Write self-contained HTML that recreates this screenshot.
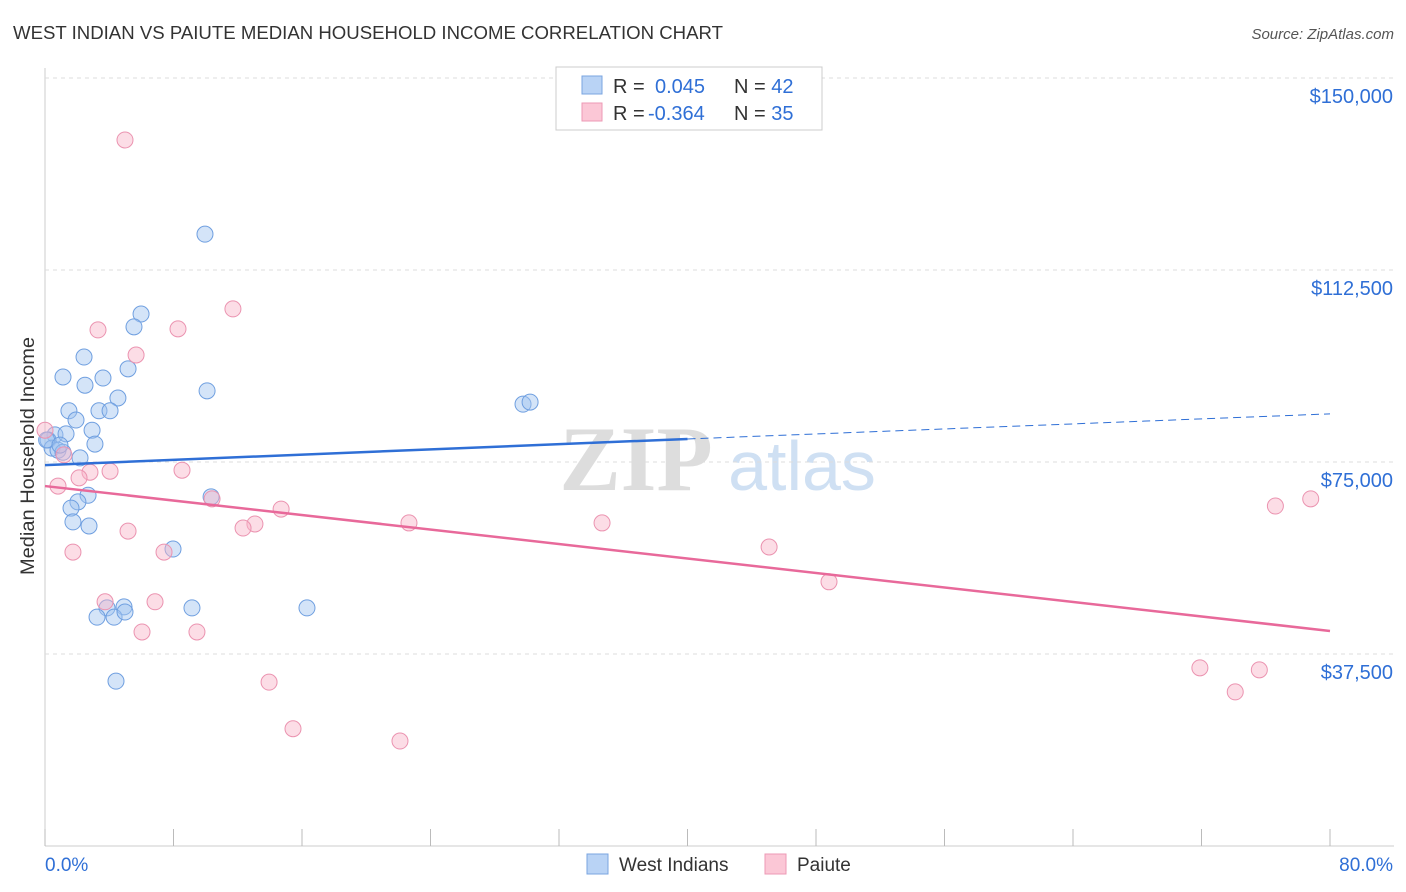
<!DOCTYPE html>
<html><head><meta charset="utf-8"><style>
body{margin:0;background:#fff;width:1406px;height:892px;overflow:hidden;font-family:"Liberation Sans",sans-serif}
svg{position:absolute;left:0;top:0}
</style></head><body>
<svg id="chart" width="1406" height="892">
<text x="13" y="39" font-size="18" fill="#333" textLength="710" lengthAdjust="spacingAndGlyphs">WEST INDIAN VS PAIUTE MEDIAN HOUSEHOLD INCOME CORRELATION CHART</text>
<text x="1394" y="39" font-size="15" fill="#555" font-style="italic" text-anchor="end">Source: ZipAtlas.com</text>
<text x="0" y="0" transform="translate(34,456) rotate(-90)" font-size="19" fill="#333" text-anchor="middle" textLength="238" lengthAdjust="spacingAndGlyphs">Median Household Income</text>
<g><text x="636" y="490" font-size="92" fill="#ddd" text-anchor="middle" font-family="Liberation Serif,serif" font-weight="bold">ZIP</text><text x="802" y="490" font-size="70" fill="#cfe0f3" text-anchor="middle">atlas</text></g>
<g id="grid"></g><g id="marks"></g>
<g>
<rect x="556" y="67" width="266" height="63" fill="#fff" stroke="#ccc"/>
<rect x="582" y="76" width="20" height="18" fill="#b9d3f5" stroke="#7aa5e0"/>
<rect x="582" y="103" width="20" height="18" fill="#fbc7d6" stroke="#ec9ab5"/>
<text x="613" y="93" font-size="20" fill="#333">R = <tspan fill="#2f6fd6" x="655">0.045</tspan><tspan x="734" fill="#333">N = </tspan><tspan fill="#2f6fd6">42</tspan></text>
<text x="613" y="120" font-size="20" fill="#333">R = <tspan fill="#2f6fd6" x="648">-0.364</tspan><tspan x="734" fill="#333">N = </tspan><tspan fill="#2f6fd6">35</tspan></text>
</g>
<g>
<rect x="587" y="854" width="21" height="20" fill="#b9d3f5" stroke="#7aa5e0"/>
<text x="619" y="871" font-size="19" fill="#333">West Indians</text>
<rect x="765" y="854" width="21" height="20" fill="#fbc7d6" stroke="#ec9ab5"/>
<text x="797" y="871" font-size="19" fill="#333">Paiute</text>
</g>
</svg>
<script>
const yTicks=[150000,112500,75000,37500];
const yTickLabels=["$150,000","$112,500","$75,000","$37,500"];
const xTickLabels=["0.0%","80.0%"];
const wiX=[9.96,5.98,5.54,2.43,1.12,5.17,3.61,2.49,10.09,4.54,1.49,3.36,4.05,1.93,2.93,29.76,30.2,0.62,0.19,1.31,3.11,0.44,0.81,1.12,2.18,2.68,2.05,1.62,1.74,2.74,10.34,7.97,9.15,16.31,3.86,4.92,3.24,4.30,4.98,4.42,0.1,0.93];
const wiY=[119500,103900,101400,95500,91600,93200,91400,90000,88900,87500,85000,85000,85000,83200,81200,86300,86700,80300,79300,80500,78500,77700,77300,76900,75800,68500,67200,66000,63300,62500,68200,58000,46500,46500,46500,46700,44700,44700,45700,32200,79300,78300];
const paX=[4.98,11.7,3.30,8.28,5.67,0,1.18,2.80,4.05,8.53,0.81,2.12,10.4,14.7,13.07,12.33,22.66,34.68,5.17,1.74,7.41,45.08,48.81,3.74,6.85,6.04,9.46,13.95,15.44,22.1,71.9,74.1,75.6,76.6,78.8];
const paY=[137900,104900,100800,101000,95900,81200,76400,73000,73200,73400,70300,71900,67800,65800,62900,62100,63100,63100,61500,57400,57400,58400,51600,47700,47700,41800,41800,32000,22900,20500,34800,30100,34400,66400,67800];
const wiTrend=[74400,79500,84400];
const paTrend=[70300,42000];
const X0=45,X1=1330,Y0=846,YS=192/37500;
const sx=v=>X0+(v/80)*(X1-X0), sy=v=>Y0-v*YS;
const NS="http://www.w3.org/2000/svg";
function mk(t,a,p){const e=document.createElementNS(NS,t);for(const k in a)e.setAttribute(k,a[k]);p.appendChild(e);return e;}
const grid=document.getElementById('grid'),marks=document.getElementById('marks');
let ax=mk('line',{x1:X0,y1:68,x2:X0,y2:846,stroke:'#ccc'},grid);

let bx=mk('line',{x1:X0,y1:846,x2:1394,y2:846,stroke:'#ccc'},grid);

for(let i=0;i<=10;i++){const x=sx(i*8);const t=mk('line',{x1:x,y1:829,x2:x,y2:846,stroke:'#bbb'},grid);
}
yTicks.forEach((v,i)=>{const y=sy(v);const g=mk('line',{x1:X0,y1:y,x2:1394,y2:y,stroke:'#ddd','stroke-dasharray':'4 4'},grid);

const t=mk('text',{x:1393,y:y+25,'font-size':20,fill:'#2f6fd6','text-anchor':'end'},grid);t.textContent=yTickLabels[i];
});
xTickLabels.forEach((s,i)=>{const t=mk('text',{x:i?1393:45,y:871,'font-size':19,fill:'#2f6fd6','text-anchor':i?'end':'start'},grid);t.textContent=s;
});
wiX.forEach((x,i)=>{const c=mk('circle',{cx:sx(x),cy:sy(wiY[i]),r:8,fill:'rgba(160,195,240,0.45)',stroke:'#6f9fe0','stroke-width':1},marks);
});
paX.forEach((x,i)=>{const c=mk('circle',{cx:sx(x),cy:sy(paY[i]),r:8,fill:'rgba(248,180,200,0.45)',stroke:'#eb93b0','stroke-width':1},marks);
});
let l1=mk('line',{x1:sx(0),y1:sy(wiTrend[0]),x2:sx(40),y2:sy(wiTrend[1]),stroke:'#2f6fd6','stroke-width':2.5},marks);

let l2=mk('line',{x1:sx(40),y1:sy(wiTrend[1]),x2:sx(80),y2:sy(wiTrend[2]),stroke:'#2f6fd6','stroke-width':1,'stroke-dasharray':'8 5'},marks);

let l3=mk('line',{x1:sx(0),y1:sy(paTrend[0]),x2:sx(80),y2:sy(paTrend[1]),stroke:'#e8699a','stroke-width':2.5},marks);

</script>
</body></html>
